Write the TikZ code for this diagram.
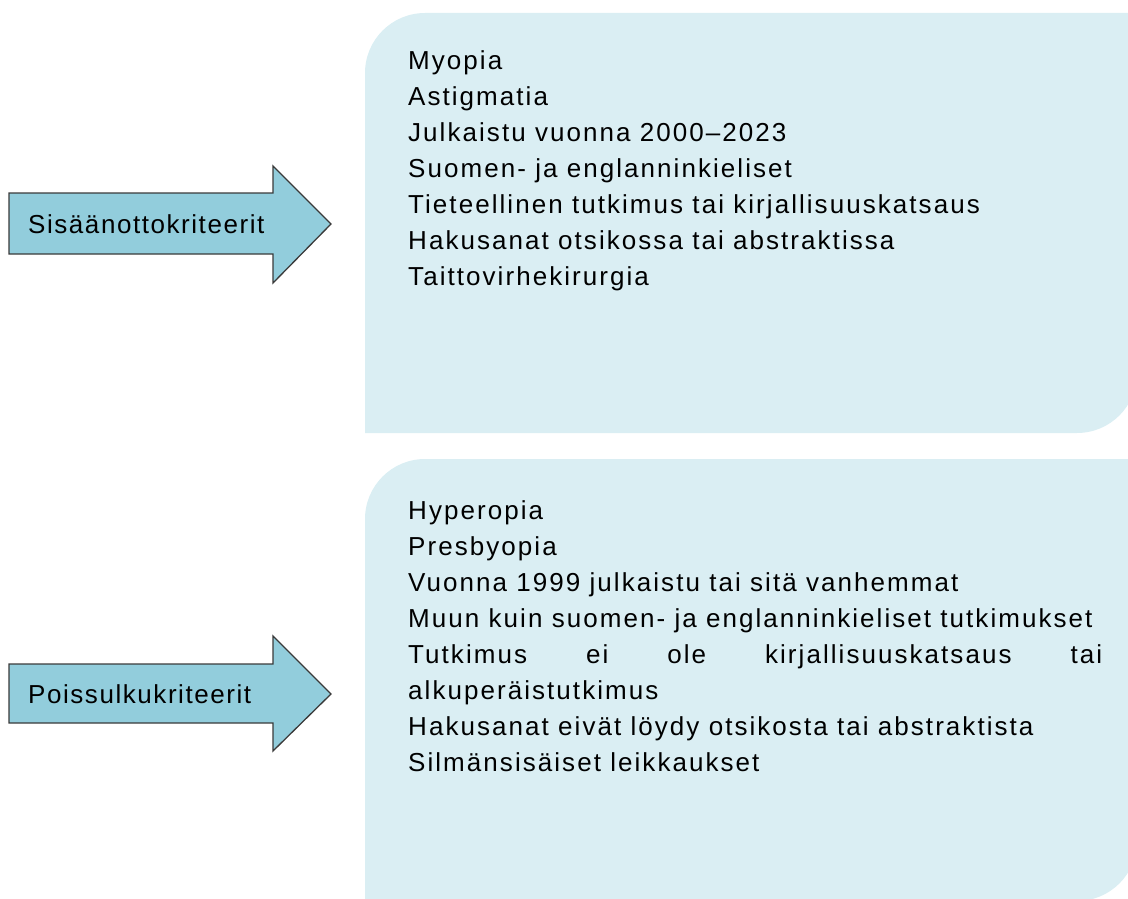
\documentclass[tikz,border=0pt]{standalone}
\usepackage{fontspec}
\setmainfont{Liberation Sans}
\newfontfamily\spacedfont[LetterSpace=7.9]{Liberation Sans}
\newfontfamily\labelfont[LetterSpace=6.0]{Liberation Sans}
\definecolor{arrowfill}{HTML}{92CDDC}
\definecolor{boxfill}{HTML}{DAEEF3}
\definecolor{edge}{HTML}{3A3A3A}
\tikzset{
  arrowshape/.style={fill=arrowfill, draw=edge, line width=1.3pt, line join=miter},
  boxshape/.style={fill=boxfill},
  arrowlabel/.style={anchor=west, inner sep=0pt, font=\labelfont\fontsize{26}{36}\selectfont},
  listtext/.style={anchor=north west, inner sep=0pt, align=left, font=\spacedfont\fontsize{26}{36}\selectfont}
}
\begin{document}
\begin{tikzpicture}[x=1pt,y=-1pt]
\useasboundingbox (0,0) rectangle (1128,899);
\begin{scope}
\clip (0,0) rectangle (1128,899);
% content boxes
\fill[boxshape] (365,433) [rounded corners=60pt] -- (365,13) [sharp corners] -- (1137,13) [rounded corners=60pt] -- (1137,433) [sharp corners] -- cycle;
\fill[boxshape] (365,901) [rounded corners=60pt] -- (365,459) [sharp corners] -- (1137,459) [rounded corners=60pt] -- (1137,901) [sharp corners] -- cycle;
\end{scope}
% arrows
\draw[arrowshape] (9,193) -- (273,193) -- (273,166) -- (331,224) -- (273,283) -- (273,254) -- (9,254) -- cycle;
\draw[arrowshape] (9,664) -- (273,664) -- (273,636) -- (331,694) -- (273,751) -- (273,723) -- (9,723) -- cycle;
\node[arrowlabel] (inc) at (28,224) {Sisäänottokriteerit};
\node[arrowlabel] (exc) at (28,694) {Poissulkukriteerit};
% lists
\node[listtext] (inclist) at (408,50) {Myopia\\
Astigmatia\\
Julkaistu vuonna 2000–2023\\
Suomen- ja englanninkieliset\\
Tieteellinen tutkimus tai kirjallisuuskatsaus\\
Hakusanat otsikossa tai abstraktissa\\
Taittovirhekirurgia};
\node[listtext] (exclist) at (408,500) {Hyperopia\\
Presbyopia\\
Vuonna 1999 julkaistu tai sitä vanhemmat\\
Muun kuin suomen- ja englanninkieliset tutkimukset\\
\makebox[694pt][s]{Tutkimus ei ole kirjallisuuskatsaus tai}\\
alkuperäistutkimus\\
Hakusanat eivät löydy otsikosta tai abstraktista\\
Silmänsisäiset leikkaukset};
\end{tikzpicture}
\end{document}
